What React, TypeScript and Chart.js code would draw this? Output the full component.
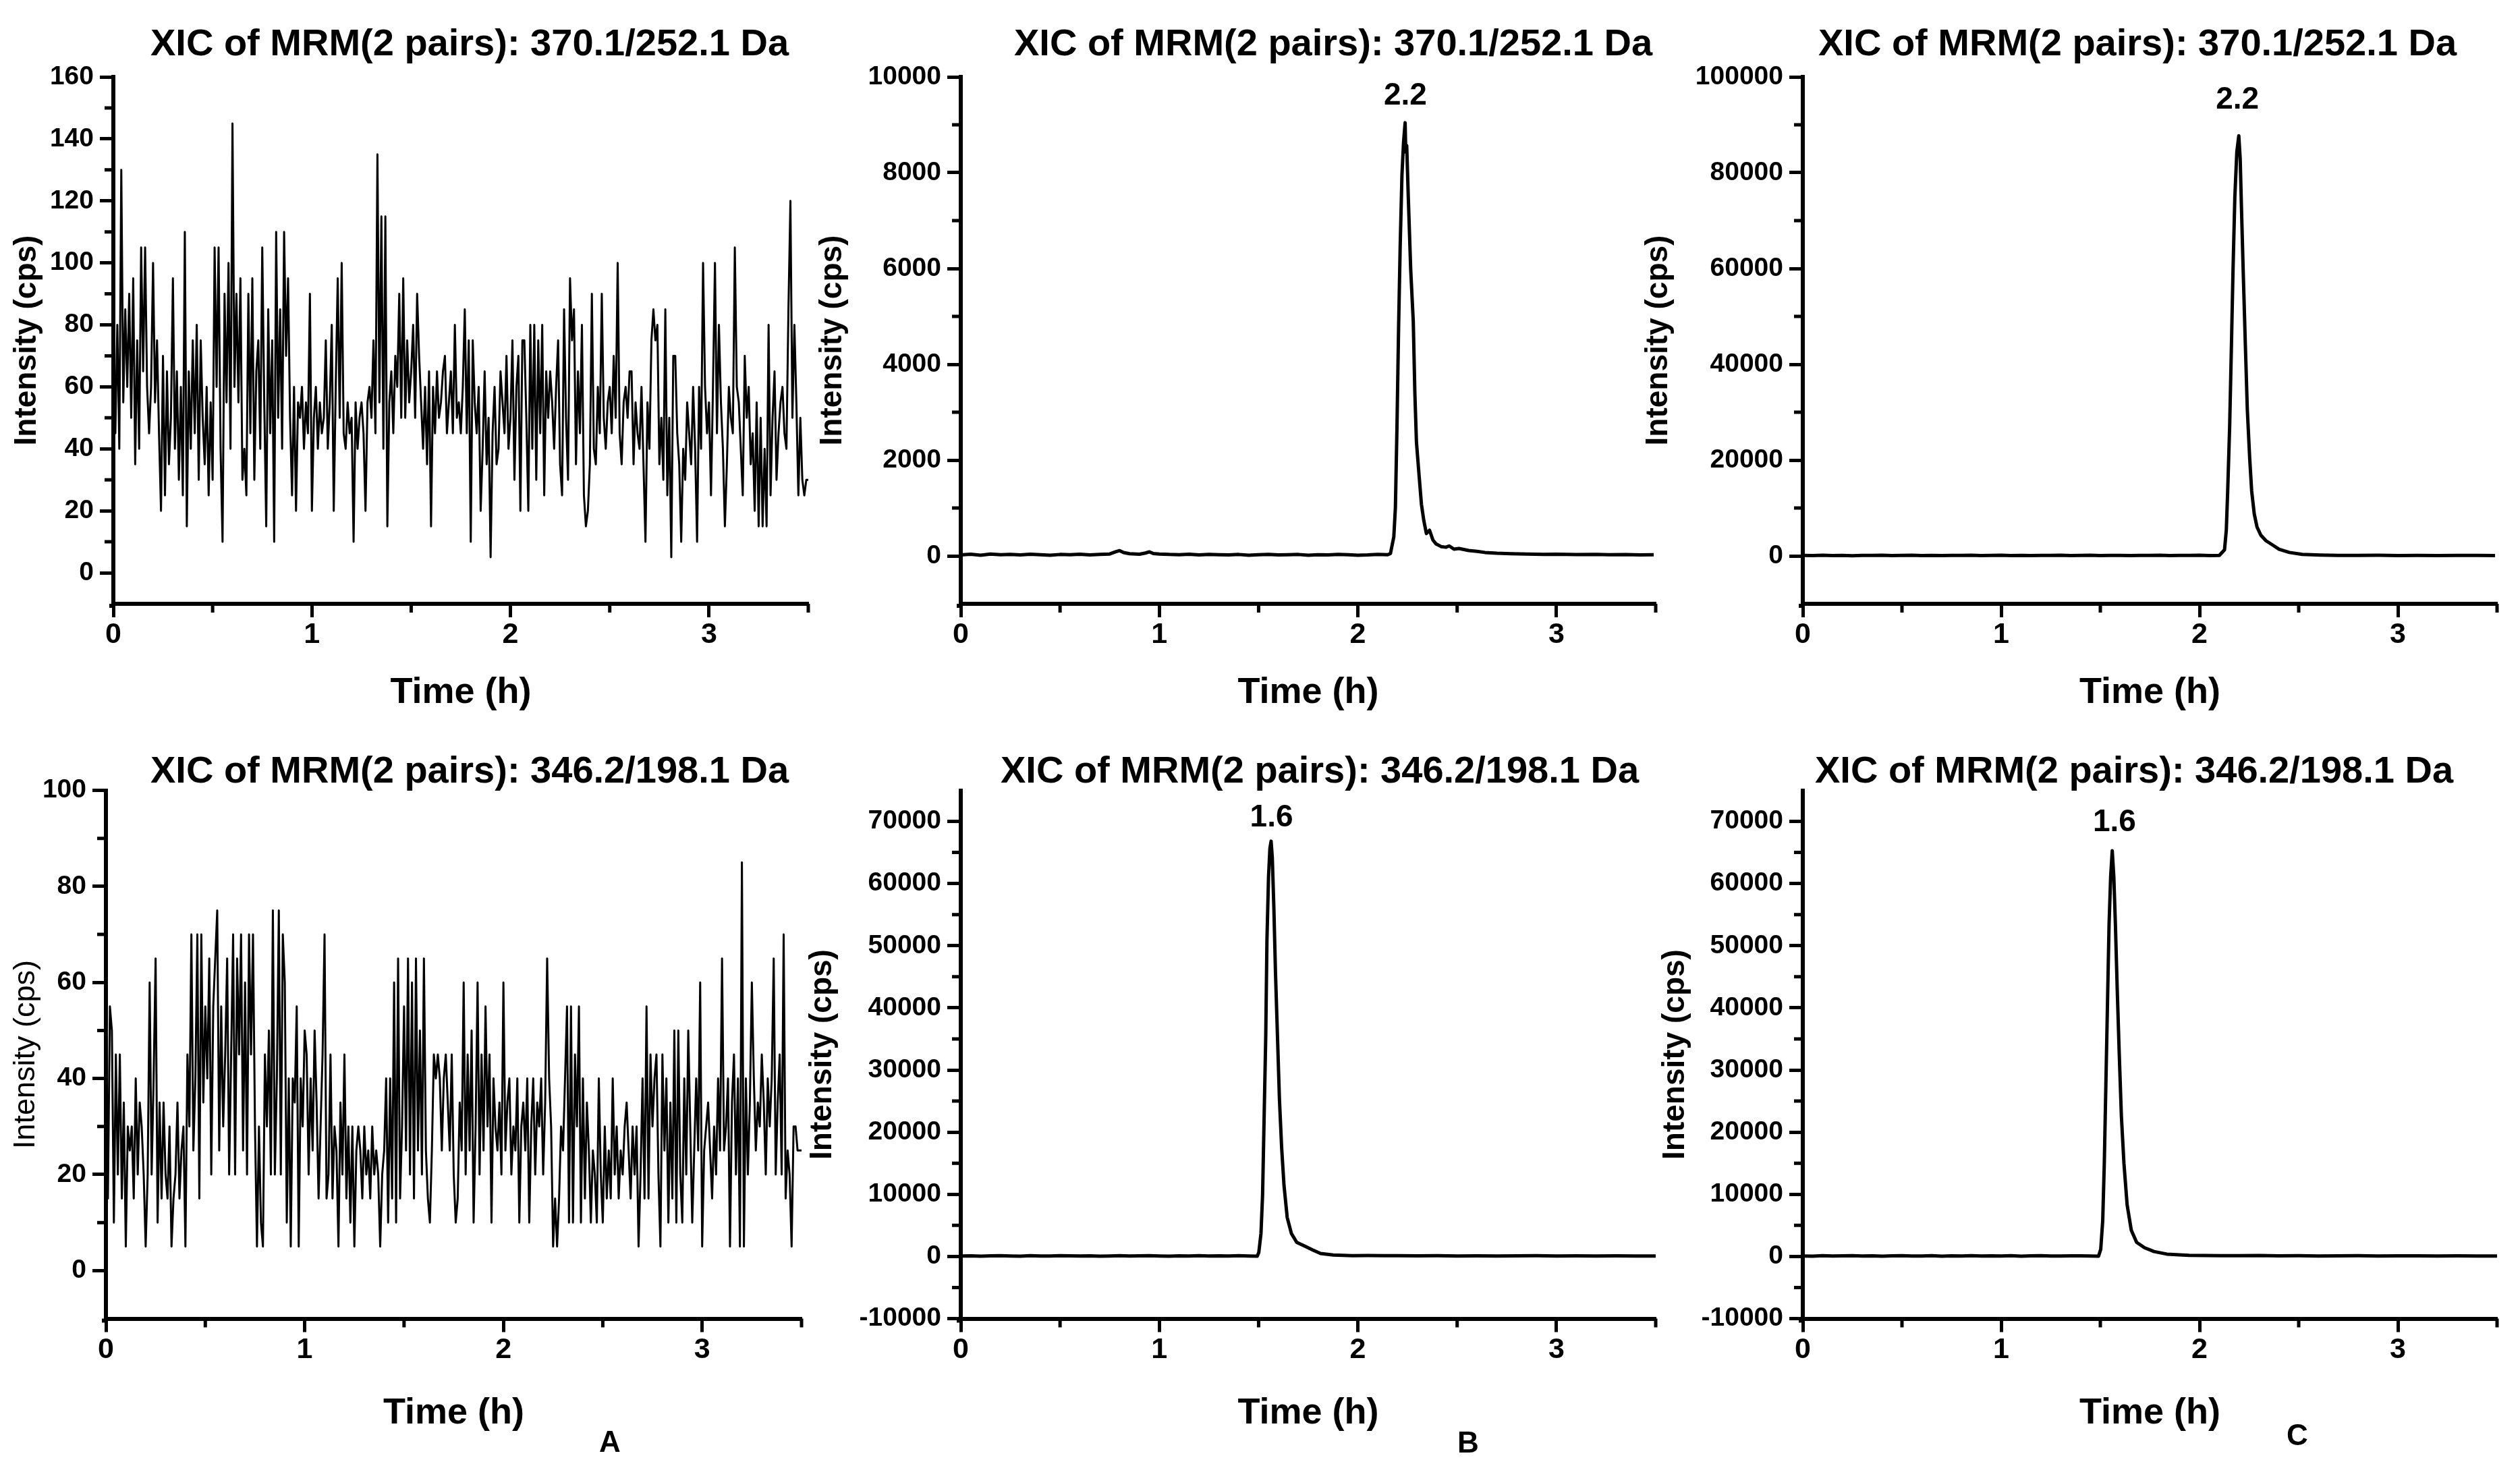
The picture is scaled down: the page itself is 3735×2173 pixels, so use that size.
import React, { useEffect, useRef } from "react";
import { Chart, registerables } from "chart.js";

Chart.register(...registerables);

const FONT = "'Liberation Sans', Arial, Helvetica, sans-serif";

// ---- noise traces (panel A): one reading every 0.01 h, 0 .. 3.5 h
const NOISE_DT = 0.01;

// 370.1/252.1 Da, blank
const A1_INTENSITY = [
  70, 45, 80, 40, 130, 55, 85, 60, 90, 50,
  95, 35, 75, 40, 105, 65, 105, 60, 45, 60,
  100, 55, 75, 45, 20, 70, 25, 65, 35, 50,
  95, 40, 65, 30, 60, 25, 110, 15, 65, 40,
  75, 45, 80, 30, 75, 50, 35, 60, 25, 55,
  30, 105, 60, 105, 40, 10, 90, 55, 100, 40,
  145, 60, 90, 55, 95, 30, 40, 25, 90, 45,
  95, 30, 65, 75, 40, 105, 55, 15, 85, 45,
  75, 10, 110, 50, 85, 40, 110, 70, 95, 50,
  25, 60, 20, 55, 50, 60, 40, 55, 45, 90,
  20, 50, 60, 40, 55, 45, 50, 75, 40, 55,
  80, 20, 60, 95, 50, 100, 45, 40, 55, 45,
  50, 10, 55, 40, 50, 55, 45, 20, 55, 60,
  50, 75, 45, 135, 55, 115, 40, 115, 15, 55,
  65, 45, 70, 60, 90, 50, 95, 50, 75, 55,
  65, 80, 50, 90, 70, 55, 40, 60, 35, 65,
  15, 60, 45, 65, 50, 55, 65, 70, 45, 55,
  65, 45, 80, 50, 55, 45, 60, 85, 45, 75,
  10, 75, 55, 45, 60, 20, 40, 65, 35, 50,
  5, 45, 60, 35, 40, 65, 55, 45, 70, 40,
  50, 75, 30, 60, 70, 20, 75, 75, 50, 20,
  80, 40, 80, 30, 75, 45, 80, 25, 65, 50,
  65, 55, 40, 60, 75, 35, 25, 85, 50, 30,
  95, 75, 85, 35, 65, 45, 80, 25, 15, 20,
  35, 90, 40, 35, 60, 45, 90, 50, 40, 55,
  60, 45, 70, 50, 100, 45, 35, 55, 60, 50,
  65, 65, 35, 55, 45, 40, 60, 35, 10, 55,
  40, 75, 85, 75, 80, 35, 50, 30, 85, 25,
  50, 5, 70, 70, 45, 35, 10, 40, 30, 55,
  45, 35, 60, 40, 10, 60, 40, 100, 60, 45,
  55, 25, 60, 100, 45, 80, 55, 40, 15, 35,
  60, 50, 45, 105, 60, 55, 40, 25, 70, 50,
  60, 35, 45, 20, 55, 15, 50, 15, 40, 15,
  80, 25, 50, 65, 30, 45, 55, 60, 45, 40,
  85, 120, 50, 80, 55, 25, 50, 30, 25, 30, 30,
];

// 346.2/198.1 Da, blank
const A2_INTENSITY = [
  25, 15, 55, 50, 10, 45, 20, 45, 15, 35,
  5, 30, 25, 30, 15, 40, 20, 35, 30, 20,
  5, 20, 60, 20, 40, 65, 10, 35, 15, 35,
  20, 15, 30, 5, 15, 20, 35, 15, 25, 30,
  5, 45, 30, 70, 25, 40, 70, 15, 70, 35,
  55, 40, 65, 20, 55, 65, 75, 25, 55, 30,
  45, 65, 20, 45, 70, 20, 65, 45, 70, 25,
  60, 20, 70, 45, 70, 30, 5, 30, 10, 5,
  45, 30, 50, 20, 75, 20, 40, 75, 20, 70,
  60, 10, 40, 5, 40, 35, 55, 5, 40, 30,
  50, 45, 20, 40, 25, 50, 35, 15, 30, 45,
  70, 15, 20, 45, 15, 30, 25, 5, 35, 20,
  45, 15, 30, 10, 30, 5, 25, 30, 25, 15,
  30, 20, 25, 15, 30, 20, 25, 20, 5, 20,
  25, 40, 10, 40, 15, 60, 10, 65, 15, 30,
  55, 25, 65, 20, 60, 15, 65, 25, 50, 20,
  65, 25, 15, 10, 25, 45, 40, 45, 40, 25,
  40, 45, 35, 25, 45, 20, 10, 15, 35, 25,
  60, 20, 45, 25, 50, 10, 30, 60, 20, 45,
  25, 55, 30, 45, 10, 40, 30, 25, 35, 20,
  60, 25, 35, 40, 20, 30, 25, 40, 10, 30,
  35, 25, 40, 10, 30, 40, 20, 35, 30, 40,
  20, 35, 65, 40, 30, 5, 15, 5, 15, 30,
  25, 40, 55, 10, 55, 10, 45, 30, 55, 10,
  40, 15, 35, 25, 10, 25, 20, 10, 40, 20,
  10, 30, 15, 25, 15, 40, 20, 30, 15, 25,
  20, 30, 35, 25, 15, 30, 20, 30, 5, 20,
  40, 15, 55, 15, 45, 30, 40, 45, 20, 5,
  45, 25, 40, 10, 35, 15, 50, 10, 50, 20,
  10, 40, 20, 50, 30, 10, 25, 40, 25, 60,
  5, 25, 30, 35, 25, 15, 30, 20, 40, 25,
  65, 25, 30, 40, 5, 35, 45, 20, 40, 5,
  85, 5, 40, 20, 35, 60, 40, 25, 35, 30,
  45, 35, 20, 40, 30, 40, 65, 20, 35, 45,
  20, 70, 15, 25, 20, 5, 30, 30, 25, 25, 25,
];

// ---- panel B, top: 370.1/252.1 Da
const B1_TIME = [
  0, 0.05, 0.1, 0.15, 0.2, 0.25, 0.3, 0.35, 0.4, 0.45, 0.5, 0.55, 0.6, 0.65, 0.7, 0.75,
  0.78, 0.8, 0.82, 0.85, 0.9, 0.93, 0.95, 0.97,
  1.0, 1.05, 1.1, 1.15, 1.2, 1.25, 1.3, 1.35, 1.4, 1.45, 1.5, 1.55, 1.6, 1.65, 1.7, 1.75,
  1.8, 1.85, 1.9, 1.95, 2.0, 2.05, 2.1, 2.15,
  2.164, 2.181, 2.189, 2.197, 2.205, 2.213, 2.222, 2.23, 2.238, 2.241,
  2.246, 2.254, 2.266, 2.279, 2.287, 2.295, 2.308, 2.32, 2.332, 2.345,
  2.361, 2.378, 2.394, 2.419, 2.443, 2.46, 2.484, 2.509, 2.558, 2.6,
  2.64, 2.7, 2.771, 2.85, 2.936, 3.0, 3.1, 3.2, 3.264, 3.35, 3.42, 3.49,
];
const B1_INTENSITY = [
  20, 35, 15, 40, 25, 30, 20, 35, 25, 15, 30, 25, 35, 20, 30, 40,
  85, 110, 70, 45, 35, 60, 85, 50,
  40, 30, 25, 35, 20, 30, 25, 20, 30, 15, 25, 30, 20, 25, 30, 15,
  25, 20, 30, 25, 15, 20, 30, 25,
  50, 399, 1012, 2713, 4755, 6457, 7955, 8635, 9044, 8431,
  8567, 7478, 5981, 4892, 3394, 2373, 1692, 1080, 739, 467,
  535, 331, 249, 195, 181, 208, 140, 154, 113, 95,
  72, 55, 45, 40, 31, 35, 28, 30, 24, 28, 22, 25,
];

// ---- panel C, top: 370.1/252.1 Da
const C1_TIME = [
  0, 0.05, 0.1, 0.15, 0.2, 0.25, 0.3, 0.35, 0.4, 0.45,
  0.5, 0.55, 0.6, 0.65, 0.7, 0.75, 0.8, 0.85, 0.9, 0.95,
  1.0, 1.05, 1.1, 1.15, 1.2, 1.25, 1.3, 1.35, 1.4, 1.45,
  1.5, 1.55, 1.6, 1.65, 1.7, 1.75, 1.8, 1.85, 1.9, 1.95,
  2.0, 2.05, 2.1,
  2.126, 2.135, 2.142, 2.152, 2.161, 2.169, 2.178, 2.188, 2.198, 2.205,
  2.211, 2.22, 2.231, 2.241, 2.253, 2.263, 2.276, 2.29, 2.309, 2.335,
  2.368, 2.401, 2.453, 2.518, 2.61, 2.7, 2.8, 2.9, 3.0, 3.1,
  3.2, 3.3, 3.4, 3.49,
];
const C1_INTENSITY = [
  100, 60, 140, 80, 120, 50, 110, 90, 130, 70,
  100, 150, 80, 120, 60, 110, 90, 140, 70, 100,
  130, 80, 110, 60, 120, 90, 150, 70, 100, 130,
  80, 110, 90, 60, 120, 100, 140, 70, 110, 90,
  130, 80, 100,
  1270, 5350, 13500, 27130, 44150, 59810, 74780, 84310, 87710, 82950,
  73420, 59810, 44150, 30540, 20330, 13520, 8750, 6030, 4330, 3170,
  2290, 1400, 720, 320, 180, 120, 90, 130, 80, 110,
  70, 100, 90, 80,
];

// ---- panel B, bottom: 346.2/198.1 Da
const B2_TIME = [
  0, 0.05, 0.1, 0.15, 0.2, 0.25, 0.3, 0.35, 0.4, 0.45,
  0.5, 0.55, 0.6, 0.65, 0.7, 0.75, 0.8, 0.85, 0.9, 0.95,
  1.0, 1.05, 1.1, 1.15, 1.2, 1.25, 1.3, 1.35, 1.4, 1.45,
  1.493, 1.501, 1.512, 1.52, 1.528, 1.536, 1.542, 1.55, 1.557, 1.563,
  1.569, 1.577, 1.585, 1.595, 1.605, 1.616, 1.628, 1.644, 1.665, 1.692,
  1.732, 1.772, 1.812, 1.876, 1.972, 2.05, 2.132, 2.2, 2.3, 2.4,
  2.5, 2.6, 2.7, 2.8, 2.9, 3.0, 3.1, 3.2, 3.3, 3.4, 3.5,
];
const B2_INTENSITY = [
  60, 100, 40, 90, 120, 70, 50, 110, 80, 60,
  130, 90, 70, 100, 50, 80, 120, 60, 90, 110,
  70, 40, 100, 80, 130, 60, 90, 70, 110, 80,
  40, 635, 3710, 9860, 22660, 35470, 50840, 61090, 65700, 66820,
  64160, 55960, 45720, 35470, 25230, 17540, 11400, 6280, 3710, 2270,
  1660, 1050, 480, 230, 130, 150, 130, 110, 90, 120,
  80, 100, 70, 90, 110, 60, 90, 70, 100, 60, 80,
];

// ---- panel C, bottom: 346.2/198.1 Da
const C2_TIME = [
  0, 0.05, 0.1, 0.15, 0.2, 0.25, 0.3, 0.35, 0.4, 0.45,
  0.5, 0.55, 0.6, 0.65, 0.7, 0.75, 0.8, 0.85, 0.9, 0.95,
  1.0, 1.05, 1.1, 1.15, 1.2, 1.25, 1.3, 1.35, 1.4, 1.45,
  1.491, 1.502, 1.512, 1.52, 1.528, 1.536, 1.544, 1.552, 1.56, 1.568,
  1.576, 1.585, 1.595, 1.606, 1.619, 1.635, 1.656, 1.683, 1.723, 1.771,
  1.835, 1.947, 2.107, 2.2, 2.3, 2.4, 2.5, 2.6, 2.7, 2.8,
  2.9, 3.0, 3.1, 3.2, 3.3, 3.4, 3.5,
];
const C2_INTENSITY = [
  80, 50, 110, 70, 90, 130, 60, 100, 40, 90,
  120, 70, 80, 110, 50, 90, 60, 130, 80, 100,
  70, 110, 50, 90, 120, 80, 60, 100, 90, 70,
  40, 1150, 5760, 14980, 27790, 40590, 53400, 61090, 65290, 61090,
  53400, 43150, 32910, 22660, 14980, 8320, 4220, 2270, 1400, 790,
  380, 180, 130, 110, 140, 90, 120, 80, 100, 110,
  70, 90, 100, 60, 90, 80, 70,
];

// ---- ticks
const X_TICKS = [0, 1, 2, 3];
const X_MINOR = [0.5, 1.5, 2.5, 3.5];
const A1_Y_TICKS = [0, 20, 40, 60, 80, 100, 120, 140, 160];
const A1_Y_MINOR = [10, 30, 50, 70, 90, 110, 130, 150];
const A2_Y_TICKS = [0, 20, 40, 60, 80, 100];
const A2_Y_MINOR = [10, 30, 50, 70, 90];
const B1_Y_TICKS = [0, 2000, 4000, 6000, 8000, 10000];
const B1_Y_MINOR = [1000, 3000, 5000, 7000, 9000];
const C1_Y_TICKS = [0, 20000, 40000, 60000, 80000, 100000];
const C1_Y_MINOR = [10000, 30000, 50000, 70000, 90000];
const BOTTOM_Y_TICKS = [-10000, 0, 10000, 20000, 30000, 40000, 50000, 60000, 70000];
const BOTTOM_Y_MINOR = [-5000, 5000, 15000, 25000, 35000, 45000, 55000, 65000];

const TITLE_TOP = "XIC of MRM(2 pairs): 370.1/252.1 Da";
const TITLE_BOTTOM = "XIC of MRM(2 pairs): 346.2/198.1 Da";

type Pt = { x: number; y: number };
type Peak = { text: string; x: number; y: number } | null;

type PanelSpec = {
  key: string;
  x0: number; y0: number; w: number; h: number;
  left: number; top: number; right: number; bottom: number;
  points: Pt[];
  yMin: number; yMax: number;
  yTicks: number[]; yMinor: number[];
  lineWidth: number;
  yTitleWeight: "bold" | "normal";
  yTitleSize: number;
  yTitlePad: number;
  xTitlePad: number;
  peak: Peak;
};

const pairUp = (t: number[], v: number[]): Pt[] => t.map((x, i) => ({ x, y: v[i] }));
const sampled = (v: number[]): Pt[] => v.map((y, i) => ({ x: i * NOISE_DT, y }));

const PANELS: PanelSpec[] = [
  {
    key: "A1", x0: 0, y0: 0, w: 1218, h: 1065, left: 168, top: 114, right: 1198, bottom: 895,
    points: sampled(A1_INTENSITY), yMin: -10, yMax: 160, yTicks: A1_Y_TICKS, yMinor: A1_Y_MINOR,
    lineWidth: 3, yTitleWeight: "bold", yTitleSize: 46, yTitlePad: 17, xTitlePad: 11, peak: null,
  },
  {
    key: "B1", x0: 1200, y0: 0, w: 1274, h: 1065, left: 1424, top: 114, right: 2454, bottom: 895,
    points: pairUp(B1_TIME, B1_INTENSITY), yMin: -1000, yMax: 10000, yTicks: B1_Y_TICKS, yMinor: B1_Y_MINOR,
    lineWidth: 5, yTitleWeight: "bold", yTitleSize: 46, yTitlePad: 11, xTitlePad: 11,
    peak: { text: "2.2", x: 2.239, y: 9600 },
  },
  {
    key: "C1", x0: 2420, y0: 0, w: 1301, h: 1065, left: 2672, top: 114, right: 3701, bottom: 895,
    points: pairUp(C1_TIME, C1_INTENSITY), yMin: -10000, yMax: 100000, yTicks: C1_Y_TICKS, yMinor: C1_Y_MINOR,
    lineWidth: 5, yTitleWeight: "bold", yTitleSize: 46, yTitlePad: 15, xTitlePad: 11,
    peak: { text: "2.2", x: 2.191, y: 95200 },
  },
  {
    key: "A2", x0: 0, y0: 1065, w: 1208, h: 1108, left: 157, top: 1171.5, right: 1188, bottom: 1954.5,
    points: sampled(A2_INTENSITY), yMin: -10, yMax: 100, yTicks: A2_Y_TICKS, yMinor: A2_Y_MINOR,
    lineWidth: 3, yTitleWeight: "normal", yTitleSize: 45, yTitlePad: 16, xTitlePad: 50.5, peak: null,
  },
  {
    key: "B2", x0: 1180, y0: 1065, w: 1294, h: 1108, left: 1424, top: 1171.5, right: 2454, bottom: 1954.5,
    points: pairUp(B2_TIME, B2_INTENSITY), yMin: -10000, yMax: 75000, yTicks: BOTTOM_Y_TICKS, yMinor: BOTTOM_Y_MINOR,
    lineWidth: 5, yTitleWeight: "bold", yTitleSize: 46, yTitlePad: 16, xTitlePad: 50.5,
    peak: { text: "1.6", x: 1.565, y: 70600 },
  },
  {
    key: "C2", x0: 2440, y0: 1065, w: 1281, h: 1108, left: 2672, top: 1171.5, right: 3701, bottom: 1954.5,
    points: pairUp(C2_TIME, C2_INTENSITY), yMin: -10000, yMax: 75000, yTicks: BOTTOM_Y_TICKS, yMinor: BOTTOM_Y_MINOR,
    lineWidth: 5, yTitleWeight: "bold", yTitleSize: 46, yTitlePad: 20, xTitlePad: 50.5,
    peak: { text: "1.6", x: 1.571, y: 69800 },
  },
];

const HEADINGS = [
  { text: TITLE_TOP, left: 223, top: 35 },
  { text: TITLE_TOP, left: 1503, top: 35 },
  { text: TITLE_TOP, left: 2695, top: 35 },
  { text: TITLE_BOTTOM, left: 223, top: 1113 },
  { text: TITLE_BOTTOM, left: 1483, top: 1113 },
  { text: TITLE_BOTTOM, left: 2690, top: 1113 },
];

const LETTERS = [
  { text: "A", cx: 904, top: 2115 },
  { text: "B", cx: 2176, top: 2116 },
  { text: "C", cx: 3405, top: 2105 },
];

const ChromPanel: React.FC<{ spec: PanelSpec }> = ({ spec }) => {
  const canvasRef = useRef<HTMLCanvasElement | null>(null);
  const chartRef = useRef<Chart | null>(null);

  useEffect(() => {
    if (!canvasRef.current) return;
    const ctx = canvasRef.current.getContext("2d");
    if (!ctx) return;
    if (chartRef.current) chartRef.current.destroy();

    const s = spec;
    const tickGrid = {
      display: true,
      drawOnChartArea: false,
      drawTicks: true,
      tickLength: 20,
      tickWidth: 5,
      tickColor: "#000",
    };
    const axisBorder = { display: true, color: "#000", width: 6 };

    // short unlabeled ticks + the corner square where the two axis lines meet
    const minorTicks = {
      id: "minorTicks",
      afterDraw(chart: any) {
        const { ctx: c, chartArea: a, scales } = chart;
        c.save();
        c.strokeStyle = "#000";
        c.lineWidth = 5;
        c.beginPath();
        X_MINOR.forEach((v) => {
          const px = scales.x.getPixelForValue(v);
          c.moveTo(px, a.bottom);
          c.lineTo(px, a.bottom + 13);
        });
        s.yMinor.forEach((v) => {
          const py = scales.y.getPixelForValue(v);
          c.moveTo(a.left, py);
          c.lineTo(a.left - 13, py);
        });
        c.stroke();
        c.fillStyle = "#000";
        c.fillRect(a.left - 6, a.bottom, 6, 6);
        c.restore();
      },
    };

    const peakLabel = {
      id: "peakLabel",
      afterDatasetsDraw(chart: any) {
        if (!s.peak) return;
        const { ctx: c, scales } = chart;
        c.save();
        c.font = `bold 46px ${FONT}`;
        c.fillStyle = "#000";
        c.textAlign = "center";
        c.textBaseline = "middle";
        c.fillText(s.peak.text, scales.x.getPixelForValue(s.peak.x), scales.y.getPixelForValue(s.peak.y));
        c.restore();
      },
    };

    chartRef.current = new Chart(ctx, {
      type: "line",
      data: {
        datasets: [
          {
            data: s.points,
            borderColor: "#000",
            borderWidth: s.lineWidth,
            borderJoinStyle: "round",
            pointRadius: 0,
            tension: 0,
            fill: false,
          },
        ],
      },
      options: {
        animation: false,
        responsive: true,
        maintainAspectRatio: false,
        events: [],
        layout: {
          padding: { left: 0, top: s.top - s.y0, right: s.x0 + s.w - s.right, bottom: 0 },
        },
        plugins: {
          legend: { display: false },
          title: { display: false },
          tooltip: { enabled: false },
        },
        scales: {
          x: {
            type: "linear",
            min: 0,
            max: 3.5,
            afterBuildTicks: (sc: any) => {
              sc.ticks = X_TICKS.map((v) => ({ value: v }));
            },
            afterFit: (sc: any) => {
              sc.height = s.y0 + s.h - s.bottom;
            },
            grid: tickGrid,
            border: axisBorder,
            ticks: {
              color: "#000",
              autoSkip: false,
              maxRotation: 0,
              padding: 5,
              font: { family: FONT, size: 43, weight: "bold", lineHeight: 1 },
              callback: (v: any) => String(v),
            },
            title: {
              display: true,
              text: "Time (h)",
              color: "#000",
              font: { family: FONT, size: 54, weight: "bold", lineHeight: 1 },
              padding: { top: 0, bottom: s.xTitlePad },
            },
          },
          y: {
            type: "linear",
            min: s.yMin,
            max: s.yMax,
            afterBuildTicks: (sc: any) => {
              sc.ticks = s.yTicks.map((v) => ({ value: v }));
            },
            afterFit: (sc: any) => {
              sc.width = s.left - s.x0;
            },
            grid: tickGrid,
            border: axisBorder,
            ticks: {
              color: "#000",
              autoSkip: false,
              padding: 9,
              font: { family: FONT, size: 39, weight: "bold", lineHeight: 1 },
              callback: (v: any) => String(v),
            },
            title: {
              display: true,
              text: "Intensity (cps)",
              color: "#000",
              font: { family: FONT, size: s.yTitleSize, weight: s.yTitleWeight, lineHeight: 1 },
              padding: { top: s.yTitlePad, bottom: 0 },
            },
          },
        },
      } as any,
      plugins: [minorTicks, peakLabel],
    });

    return () => {
      chartRef.current?.destroy();
      chartRef.current = null;
    };
  }, [spec]);

  return (
    <div style={{ position: "absolute", left: spec.x0, top: spec.y0, width: spec.w, height: spec.h }}>
      <canvas ref={canvasRef}></canvas>
    </div>
  );
};

const App: React.FC = () => {
  return (
    <div
      style={{
        position: "absolute",
        left: 0,
        top: 0,
        width: 3735,
        height: 2173,
        overflow: "hidden",
        background: "#fff",
        color: "#000",
        fontFamily: FONT,
      }}
    >
      {PANELS.map((p) => (
        <ChromPanel key={p.key} spec={p} />
      ))}
      {HEADINGS.map((t, i) => (
        <div
          key={"h" + i}
          style={{ position: "absolute", left: t.left, top: t.top, fontSize: 56, fontWeight: "bold", lineHeight: 1, whiteSpace: "nowrap" }}
        >
          {t.text}
        </div>
      ))}
      {LETTERS.map((l) => (
        <div
          key={l.text}
          style={{
            position: "absolute",
            left: l.cx,
            top: l.top,
            transform: "translateX(-50%)",
            fontSize: 44,
            fontWeight: "bold",
            lineHeight: 1,
          }}
        >
          {l.text}
        </div>
      ))}
    </div>
  );
};

export default App;
